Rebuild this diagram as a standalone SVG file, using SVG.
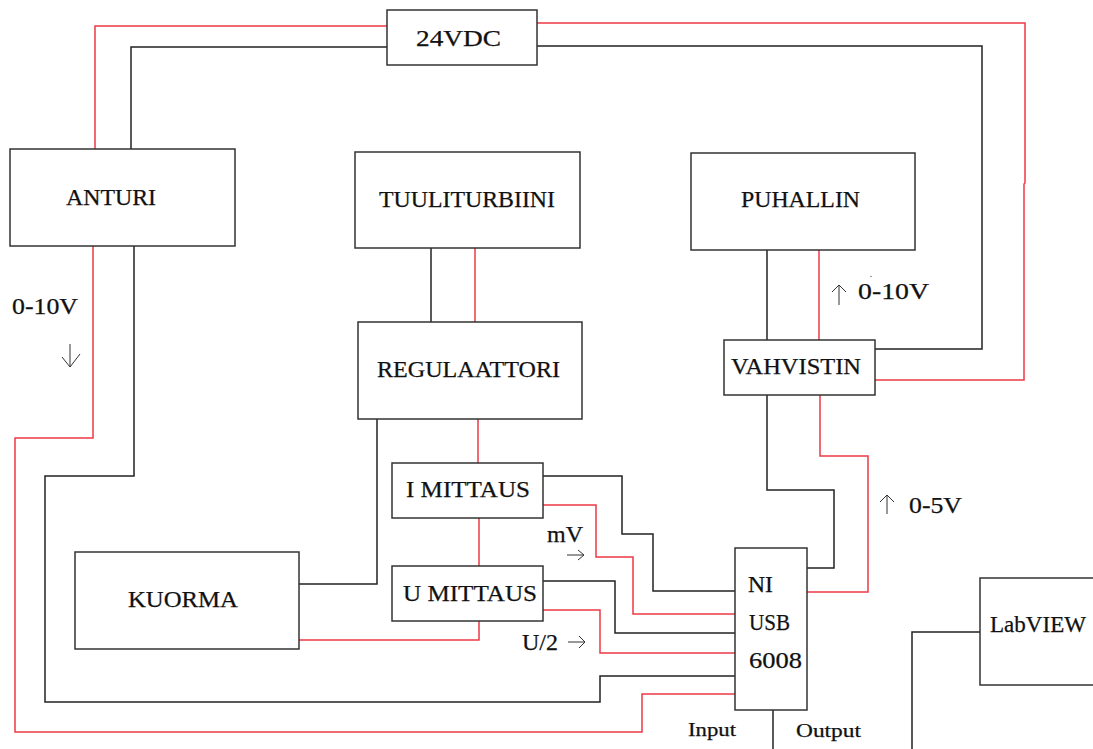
<svg xmlns="http://www.w3.org/2000/svg" width="1093" height="749" viewBox="0 0 1093 749">
<style>
rect{fill:#fff;stroke:#333;stroke-width:1.5}
path{fill:none;stroke-width:1.5}
.k{stroke:#222}
.r{stroke:#ed3a45}
.a{stroke:#333;stroke-width:1}
text{font-family:"Liberation Serif","Times New Roman",serif;fill:#111;stroke:#111;stroke-width:.25;font-size:24px;text-anchor:middle}
.s{font-size:19px}
.m{font-size:23px}
</style>
<rect x="-1" y="-1" width="1095" height="751" style="fill:#fff;stroke:none"/>
<g id="connectors">
<path class="r" d="M95 149V26H387"/>
<path class="k" d="M131 149V47H387"/>
<path class="r" d="M537 23H1025V183L1024 184V380H875"/>
<path class="k" d="M537 46H982V349H875"/>
<path class="r" d="M93 246V438H15V732H642V694H735"/>
<path class="k" d="M134 246V476H45V702H600V676H735"/>
<path class="k" d="M431 248V322"/>
<path class="r" d="M475 248V322"/>
<path class="r" d="M478 419V463"/>
<path class="k" d="M377 419V584H298"/>
<path class="r" d="M479 518V566"/>
<path class="r" d="M479 621V640H299"/>
<path class="k" d="M543 476H622V534H653V591H735"/>
<path class="r" d="M543 505H596V557H633V614H735"/>
<path class="k" d="M543 581H615V633H735"/>
<path class="r" d="M543 610H600V653H735"/>
<path class="k" d="M767 250V340"/>
<path class="r" d="M819 250V340"/>
<path class="k" d="M767 395V490H834V568H807"/>
<path class="r" d="M820 395V456H868V592H807"/>
<path class="k" d="M773 710V749"/>
<path class="k" d="M980 632H912V749"/>
</g>
<g id="n24vdc"><rect x="387" y="10" width="150" height="55"/><text x="458.500" y="46" textLength="85" lengthAdjust="spacingAndGlyphs">24VDC</text></g>
<g id="anturi"><rect x="10" y="149" width="225" height="97"/><text x="111" y="205" textLength="90" lengthAdjust="spacingAndGlyphs">ANTURI</text></g>
<g id="tuuliturbiini"><rect x="355" y="152" width="225" height="96"/><text x="467" y="207" textLength="176" lengthAdjust="spacingAndGlyphs">TUULITURBIINI</text></g>
<g id="puhallin"><rect x="691" y="153" width="224" height="97"/><text x="800.500" y="207" textLength="119" lengthAdjust="spacingAndGlyphs">PUHALLIN</text></g>
<g id="regulaattori"><rect x="358" y="322" width="224" height="97"/><text x="468.500" y="377" textLength="183" lengthAdjust="spacingAndGlyphs">REGULAATTORI</text></g>
<g id="vahvistin"><rect x="724" y="340" width="151" height="55"/><text x="796" y="374" textLength="130" lengthAdjust="spacingAndGlyphs">VAHVISTIN</text></g>
<g id="imittaus"><rect x="392" y="463" width="151" height="55"/><text x="468" y="497" textLength="124" lengthAdjust="spacingAndGlyphs">I MITTAUS</text></g>
<g id="umittaus"><rect x="392" y="566" width="151" height="55"/><text x="470" y="601" textLength="134" lengthAdjust="spacingAndGlyphs">U MITTAUS</text></g>
<g id="kuorma"><rect x="75" y="552" width="224" height="97"/><text x="183" y="607" textLength="110" lengthAdjust="spacingAndGlyphs">KUORMA</text></g>
<g id="ni"><rect x="735" y="548" width="72" height="162"/><text x="760.500" y="592" class="m" textLength="25" lengthAdjust="spacingAndGlyphs">NI</text><text x="769.500" y="630" class="m" textLength="41" lengthAdjust="spacingAndGlyphs">USB</text><text x="775.500" y="668" class="m" textLength="53" lengthAdjust="spacingAndGlyphs">6008</text></g>
<g id="labview"><rect x="980" y="578" width="114" height="107"/><text x="1038" y="632" class="m" textLength="96" lengthAdjust="spacingAndGlyphs">LabVIEW</text></g>
<g id="labels">
<text x="45" y="314" class="m" textLength="66" lengthAdjust="spacingAndGlyphs">0-10V</text>
<text x="893.500" y="299" class="m" textLength="71" lengthAdjust="spacingAndGlyphs">0-10V</text>
<text x="935.500" y="513" class="m" textLength="53" lengthAdjust="spacingAndGlyphs">0-5V</text>
<text x="565" y="542" class="m" textLength="36" lengthAdjust="spacingAndGlyphs">mV</text>
<text x="540" y="650" class="m" textLength="36" lengthAdjust="spacingAndGlyphs">U/2</text>
<text x="712" y="736" class="s" textLength="48" lengthAdjust="spacingAndGlyphs">Input</text>
<text x="828.500" y="737" class="s" textLength="65" lengthAdjust="spacingAndGlyphs">Output</text>
<path class="a" d="M70 344V367M62 357L70 367L80 354"/>
<path class="a" d="M839 305V285M832 292L839 285L846 292"/>
<path class="a" d="M887 514V495M880 502L887 495L894 502"/>
<path class="a" d="M567 555H584M578 550L584 555L578 560"/>
<path class="a" d="M568 642H585M579 636L585 642L579 648"/>
<path class="a" d="M870.500 276.500h1"/>
</g>
</svg>
